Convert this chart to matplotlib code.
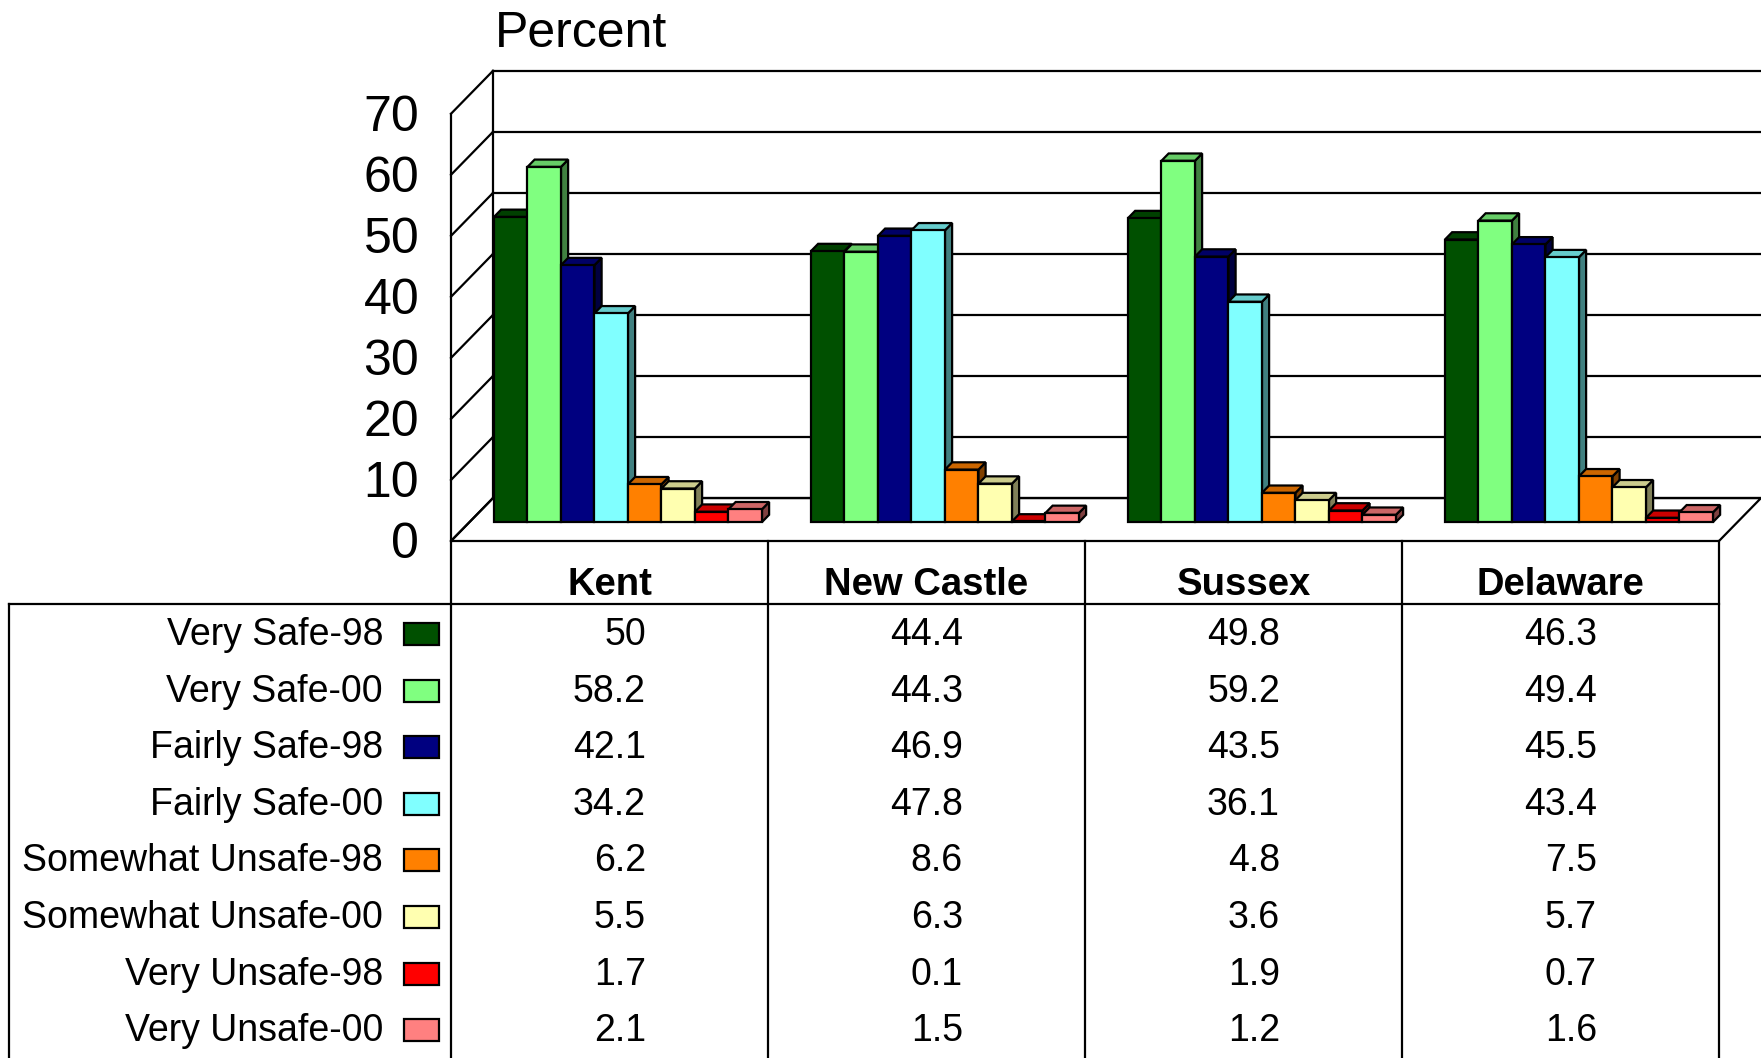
import numpy as np
import matplotlib.pyplot as plt
from matplotlib.patches import Polygon, Rectangle

plt.rcParams['font.family'] = ['Liberation Sans', 'DejaVu Sans']

# data
regions = ['Kent', 'New Castle', 'Sussex', 'Delaware']
series = ['Very Safe-98', 'Very Safe-00', 'Fairly Safe-98', 'Fairly Safe-00',
          'Somewhat Unsafe-98', 'Somewhat Unsafe-00', 'Very Unsafe-98', 'Very Unsafe-00']
very_safe_98 = [50, 44.4, 49.8, 46.3]
very_safe_00 = [58.2, 44.3, 59.2, 49.4]
fairly_safe_98 = [42.1, 46.9, 43.5, 45.5]
fairly_safe_00 = [34.2, 47.8, 36.1, 43.4]
somewhat_unsafe_98 = [6.2, 8.6, 4.8, 7.5]
somewhat_unsafe_00 = [5.5, 6.3, 3.6, 5.7]
very_unsafe_98 = [1.7, 0.1, 1.9, 0.7]
very_unsafe_00 = [2.1, 1.5, 1.2, 1.6]
values = [very_safe_98, very_safe_00, fairly_safe_98, fairly_safe_00,
          somewhat_unsafe_98, somewhat_unsafe_00, very_unsafe_98, very_unsafe_00]
colors = ['#005000', '#80FF80', '#000080', '#80FFFF',
          '#FF8000', '#FFFFB0', '#FF0000', '#FF8080']
yticks = list(range(0, 80, 10))

W, H = 1761, 1058
fig = plt.figure(figsize=(W / 100, H / 100), dpi=100)

# 3d-ish chart area; x in category units, y in percent
DX, DY = 42 / 317, 43 / 6.11      # full depth offset
d1, d2 = 0.44, 0.61               # bar front/back depth
ncat = len(regions)
ax = fig.add_axes([451 / W, (H - 541) / H, (1761 - 451) / W, (541 - 70.8) / H])
ax.set_xlim(0, ncat + DX)
ax.set_ylim(0, 70 + DY)
ax.axis('off')
lw = 1.6

# walls and floor
ax.add_patch(Polygon([(0, 0), (ncat, 0), (ncat + DX, DY), (DX, DY)],
                     closed=True, fc='white', ec='black', lw=lw, clip_on=False, zorder=1))
for v in yticks:
    ax.plot([DX, ncat + DX], [v + DY, v + DY], color='black', lw=lw, clip_on=False, zorder=2)
    ax.plot([0, DX], [v, v + DY], color='black', lw=lw, clip_on=False, zorder=2)
    ax.text(-0.10, v - 0.7, str(v), ha='right', va='center', fontsize=36)
ax.plot([0, 0], [0, 70], color='black', lw=lw, clip_on=False, zorder=2)
ax.plot([DX, DX], [DY, 70 + DY], color='black', lw=lw, clip_on=False, zorder=2)

# bars
nser = len(series)
bw = 33.5 / 317
gstart = (1 - nser * bw) / 2


def shade(c, f):
    r, g, b = plt.matplotlib.colors.to_rgb(c)
    return (r * f, g * f, b * f)


z = 10
for i in range(ncat):
    for j in range(nser):
        v = values[j][i]
        xl = i + gstart + j * bw
        xr = xl + bw
        c = colors[j]
        front = [(xl + d1 * DX, d1 * DY), (xr + d1 * DX, d1 * DY),
                 (xr + d1 * DX, v + d1 * DY), (xl + d1 * DX, v + d1 * DY)]
        top = [(xl + d1 * DX, v + d1 * DY), (xr + d1 * DX, v + d1 * DY),
               (xr + d2 * DX, v + d2 * DY), (xl + d2 * DX, v + d2 * DY)]
        side = [(xr + d1 * DX, d1 * DY), (xr + d2 * DX, d2 * DY),
                (xr + d2 * DX, v + d2 * DY), (xr + d1 * DX, v + d1 * DY)]
        for pts, col in [(side, shade(c, 0.5)), (top, shade(c, 0.8)), (front, c)]:
            ax.add_patch(Polygon(pts, closed=True, fc=col, ec='black', lw=lw,
                                 joinstyle='miter', clip_on=False, zorder=z))
        z += 1

fig.text(495 / W, 1 - 34 / H, 'Percent', ha='left', va='center', fontsize=36)

# data table below; x in category units, y in pixels down from the floor edge
th = H - 541
tx = fig.add_axes([0, 0, 1, th / H])
tx.set_xlim(-451 / 317, (1761 - 451) / 317)
tx.set_ylim(th, 0)
tx.axis('off')
left = (9 - 451) / 317
for k in range(ncat + 1):
    tx.plot([k, k], [0, th], color='black', lw=lw, clip_on=False)
tx.plot([left, ncat], [63, 63], color='black', lw=lw, clip_on=False)
tx.plot([left, left], [63, th], color='black', lw=lw, clip_on=False)
for i, name in enumerate(regions):
    tx.text(i + 0.5, 54, name, ha='center', va='baseline', fontsize=27.5, fontweight='bold')

row0, rowh = 104, 56.6
for j in range(nser):
    base = row0 + j * rowh
    tx.text(-0.2145, base, series[j], ha='right', va='baseline', fontsize=27)
    tx.add_patch(Rectangle(((404 - 451) / 317, base - 22), 35 / 317, 22,
                           fc=colors[j], ec='black', lw=lw, clip_on=False))
    for i in range(ncat):
        tx.text(i + 0.615, base, f'{values[j][i]:g}', ha='right', va='baseline', fontsize=27)

fig.savefig('out.png', dpi=100)
